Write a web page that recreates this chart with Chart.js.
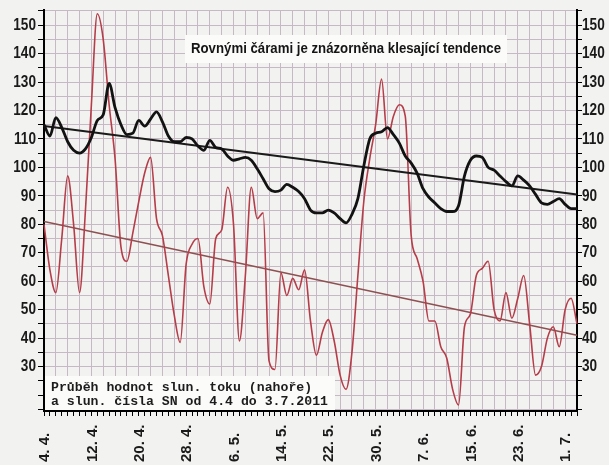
<!DOCTYPE html>
<html>
<head>
<meta charset="utf-8">
<script src="https://cdn.jsdelivr.net/npm/chart.js@4.4.1/dist/chart.umd.min.js"></script>
<style>
  html, body { margin: 0; padding: 0; background: #f2f2f0; }
  #wrap { width: 609px; height: 465px; position: relative; }
</style>
</head>
<body>
<div id="wrap"><canvas id="c" width="609" height="465"></canvas></div>
<script>
// Daily dates, 4. 4. – 3. 7. 2011
const days = [
  "4. 4.","5. 4.","6. 4.","7. 4.","8. 4.","9. 4.","10. 4.","11. 4.","12. 4.","13. 4.",
  "14. 4.","15. 4.","16. 4.","17. 4.","18. 4.","19. 4.","20. 4.","21. 4.","22. 4.","23. 4.",
  "24. 4.","25. 4.","26. 4.","27. 4.","28. 4.","29. 4.","30. 4.","1. 5.","2. 5.","3. 5.",
  "4. 5.","5. 5.","6. 5.","7. 5.","8. 5.","9. 5.","10. 5.","11. 5.","12. 5.","13. 5.",
  "14. 5.","15. 5.","16. 5.","17. 5.","18. 5.","19. 5.","20. 5.","21. 5.","22. 5.","23. 5.",
  "24. 5.","25. 5.","26. 5.","27. 5.","28. 5.","29. 5.","30. 5.","31. 5.","1. 6.","2. 6.",
  "3. 6.","4. 6.","5. 6.","6. 6.","7. 6.","8. 6.","9. 6.","10. 6.","11. 6.","12. 6.",
  "13. 6.","14. 6.","15. 6.","16. 6.","17. 6.","18. 6.","19. 6.","20. 6.","21. 6.","22. 6.",
  "23. 6.","24. 6.","25. 6.","26. 6.","27. 6.","28. 6.","29. 6.","30. 6.","1. 7.","2. 7.",
  "3. 7."
];

// Solar radio flux (upper curve)
const solarFlux = [
  115,111,117.5,114,109,106,105,106.5,110.5,116.5,
  118.5,129.5,121,115,111.5,112,116.5,114.5,117,119.5,
  116,111,109,109,110.5,110,107.5,106,109.5,107,
  106.5,104,102.5,103,103.5,102.5,99.5,96,92.5,91.5,
  92,94,93,91.5,89,85,84,84,85,84,
  82,80.5,83.5,89,100.5,110,112,112.5,114,111.5,
  108.5,104,101.5,98,92.5,89.5,87.5,85.5,84.5,84.5,
  86.5,97,102.5,104,103.5,100,99,97,95,93.5,
  97,95.5,93.5,90.5,87.5,87,88,89,87,85.5,
  85.5
];

// Sunspot number SN (lower curve)
const sunspotNumber = [
  80,64,56,75,97,80,56,85,122,154,
  145,122,103,72,67,77,88,98,103.5,82,
  76,62,48,38.5,66,73,75,58,52,75,
  78,93,80,39,62,93,82,84,32,29,
  63,55,61,57,64,46,34,42,46.5,39,
  27,22,35,62,88,103,115,131,110,118,
  122,118,76,68,60,46,46,37,33,22,
  16.5,44,48.5,62,64.5,67,50,46,56,47,
  54,62,45,27,30,40,44,37,50,54,
  45
];

// Straight trend lines (first and last day)
const fluxTrend = [114.5, 90.5];
const sunspotTrend = [81, 41];

// Axis labels
const xTickLabels = ["4. 4.","12. 4.","20. 4.","28. 4.","6. 5.","14. 5.","22. 5.","30. 5.","7. 6.","15. 6.","23. 6.","1. 7."];
const yTickLabels = [30,40,50,60,70,80,90,100,110,120,130,140,150];

const titleText = "Rovnými čárami je znázorněna klesající tendence";
const noteLines = ["Průběh hodnot slun. toku (nahoře)", "a slun. čísla SN od 4.4 do 3.7.2011"];

const GRID = '#c7b9c3';
const Y_MIN = 14.4, Y_MAX = 155.3;
const SANS = '"Liberation Sans", Arial, sans-serif';

function fivesTicks(scale) {
  const t = [];
  for (let v = 15; v <= 155; v += 5) t.push({ value: v });
  scale.ticks = t;
}

const trendPoints = (vals) => [
  { x: days[0], y: vals[0] },
  { x: days[days.length - 1], y: vals[1] }
];

// draw text squeezed horizontally by factor k
function squeezed(ctx, text, x, y, k, align) {
  const w = ctx.measureText(text).width * k;
  const x0 = align === 'right' ? x - w : x;
  ctx.save();
  ctx.translate(x0, y);
  ctx.scale(k, 1);
  ctx.fillText(text, 0, 0);
  ctx.restore();
}

const notesPlugin = {
  id: 'notes',
  beforeDatasetsDraw(chart) {
    // white boxes with the heading and the note, under the curves
    const { ctx, chartArea: a } = chart;
    ctx.save();
    ctx.fillStyle = '#fbfbfa';
    ctx.fillRect(a.left + 141, a.top + 25, 322, 28);
    ctx.fillRect(a.left + 1, a.bottom - 35, 290, 34);

    ctx.fillStyle = '#151515';
    ctx.font = 'bold 15px ' + SANS;
    ctx.textBaseline = 'middle';
    ctx.textAlign = 'left';
    const k = 310 / ctx.measureText(titleText).width;
    squeezed(ctx, titleText, a.left + 147, a.top + 39, k, 'left');

    ctx.font = 'bold 13.2px "Liberation Mono", "DejaVu Sans Mono", monospace';
    ctx.fillStyle = '#1c1c1c';
    ctx.fillText(noteLines[0], a.left + 7, a.bottom - 23);
    ctx.fillText(noteLines[1], a.left + 7, a.bottom - 9);
    ctx.restore();
  },
  afterDraw(chart) {
    const { ctx, scales: { x, y, y2 } } = chart;
    ctx.save();
    ctx.fillStyle = '#1a1a1a';
    ctx.textBaseline = 'middle';

    // value labels on both sides, narrow bold digits
    ctx.font = 'bold 17px ' + SANS;
    yTickLabels.forEach(v => {
      const py = y.getPixelForValue(v);
      squeezed(ctx, String(v), y.right - 8, py, 0.8, 'right');
      squeezed(ctx, String(v), y2.left + 5, y2.getPixelForValue(v), 0.8, 'left');
    });

    // rotated date labels, read bottom to top, starting from a common baseline
    ctx.font = 'bold 15px ' + SANS;
    ctx.textAlign = 'left';
    xTickLabels.forEach(lbl => {
      const px = x.getPixelForValue(days.indexOf(lbl));
      ctx.save();
      ctx.translate(px + 1, 462);
      ctx.rotate(-Math.PI / 2);
      ctx.fillText(lbl, 0, 0);
      ctx.restore();
    });
    ctx.restore();
  }
};

new Chart(document.getElementById('c'), {
  type: 'line',
  data: {
    labels: days,
    datasets: [
      {
        label: 'Sluneční tok',
        data: solarFlux,
        borderColor: '#121212',
        borderWidth: 2.8,
        pointRadius: 0,
        cubicInterpolationMode: 'monotone',
        order: 1
      },
      {
        label: 'Trend toku',
        data: trendPoints(fluxTrend),
        borderColor: '#1a1a1a',
        borderWidth: 2,
        pointRadius: 0,
        order: 2
      },
      {
        label: 'SN',
        data: sunspotNumber,
        borderColor: '#b53c48',
        borderWidth: 1.6,
        pointRadius: 0,
        cubicInterpolationMode: 'monotone',
        order: 3
      },
      {
        label: 'Trend SN',
        data: trendPoints(sunspotTrend),
        borderColor: '#8e5052',
        borderWidth: 1.5,
        pointRadius: 0,
        order: 4
      }
    ]
  },
  options: {
    responsive: false,
    animation: false,
    events: [],
    layout: { padding: { top: 10, left: 0, right: 0, bottom: 0 } },
    plugins: { legend: { display: false }, tooltip: { enabled: false } },
    scales: {
      x: {
        type: 'category',
        offset: false,
        afterFit(s) { s.height = 54; },
        border: { color: '#000', width: 2 },
        grid: {
          color: c => (c.index % 2 === 0 ? GRID : 'rgba(0,0,0,0)'),
          lineWidth: 1,
          tickColor: '#000',
          tickLength: 5,
          drawTicks: true
        },
        ticks: { display: false, autoSkip: false }
      },
      y: {
        position: 'left',
        min: Y_MIN, max: Y_MAX,
        afterBuildTicks: fivesTicks,
        afterFit(s) { s.width = 44; },
        border: { color: '#000', width: 2 },
        grid: { color: GRID, lineWidth: 1, tickColor: '#000', tickLength: 6 },
        ticks: { display: false, autoSkip: false }
      },
      y2: {
        position: 'right',
        min: Y_MIN, max: Y_MAX,
        afterBuildTicks: fivesTicks,
        afterFit(s) { s.width = 32; },
        border: { color: '#000', width: 2 },
        grid: { drawOnChartArea: false, tickColor: '#000', tickLength: 5 },
        ticks: { display: false, autoSkip: false }
      }
    }
  },
  plugins: [notesPlugin]
});
</script>
</body>
</html>
